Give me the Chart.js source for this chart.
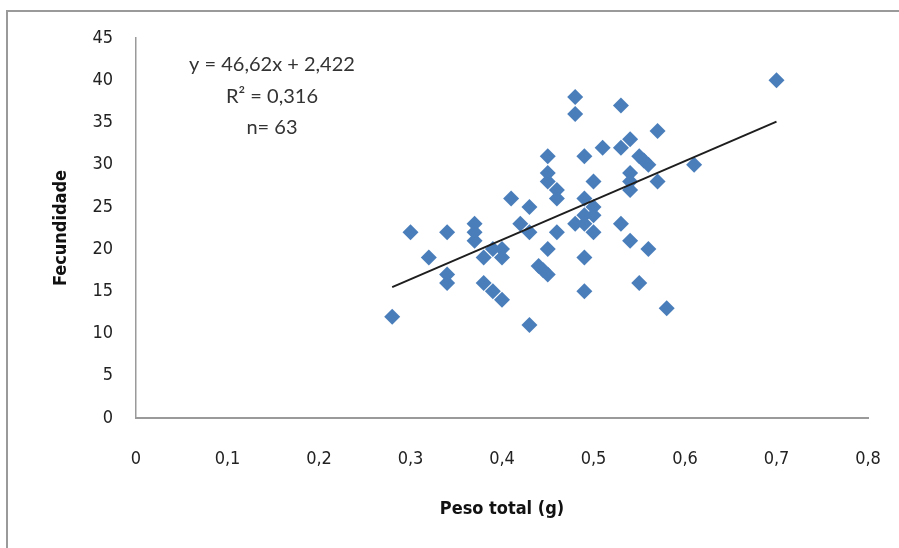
<!DOCTYPE html>
<html>
<head>
<meta charset="utf-8">
<script src="https://cdn.jsdelivr.net/npm/chart.js@4/dist/chart.umd.min.js"></script>
<style>
  html, body { margin: 0; padding: 0; background: #fff; overflow: hidden; }
  #wrap { position: relative; width: 899px; height: 548px; }
  #frame { position: absolute; left: 6px; top: 10px; width: 1000px; height: 1000px; border: 2px solid #9a9a9a; }
  #c { position: absolute; left: 0; top: 0; }
</style>
</head>
<body>
<div id="wrap">
  <div id="frame"></div>
  <canvas id="c" width="899" height="548"></canvas>
</div>
<script>
// Peso total (g) vs Fecundidade
const pesoTotal = [
  0.28, 0.30, 0.32, 0.34, 0.34, 0.34, 0.37, 0.37, 0.37, 0.38,
  0.39, 0.40, 0.40, 0.38, 0.39, 0.40, 0.41, 0.43, 0.42, 0.43,
  0.44, 0.45, 0.43, 0.45, 0.45, 0.45, 0.45, 0.46, 0.46, 0.46,
  0.48, 0.48, 0.49, 0.48, 0.49, 0.49, 0.50, 0.50, 0.50, 0.50,
  0.49, 0.49, 0.51, 0.53, 0.53, 0.54, 0.55, 0.56, 0.54, 0.54,
  0.54, 0.57, 0.57, 0.53, 0.54, 0.56, 0.55, 0.58, 0.61, 0.70,
  0.555, 0.49, 0.445
];
const fecundidade = [
  12, 22, 19, 22, 17, 16, 23, 22, 21, 19,
  20, 20, 19, 16, 15, 14, 26, 25, 23, 22,
  18, 17, 11, 20, 31, 29, 28, 27, 26, 22,
  38, 36, 31, 23, 24, 26, 25, 24, 22, 28,
  19, 15, 32, 37, 32, 33, 31, 30, 29, 28,
  27, 28, 34, 23, 21, 20, 16, 13, 30, 40,
  30.5, 23, 17.5
];

// linear trend line ends (y = 46,62x + 2,422)
const trendX = [0.28, 0.70];
const trendY = [15.5, 35.1];

const xTickLabels = ['0', '0,1', '0,2', '0,3', '0,4', '0,5', '0,6', '0,7', '0,8'];
const yTickLabels = ['0', '5', '10', '15', '20', '25', '30', '35', '40', '45'];
const noteLines = ['y = 46,62x + 2,422', 'R² = 0,316', 'n= 63'];

const narrow = "'Liberation Sans Narrow', 'DejaVu Sans Condensed', 'Liberation Sans', sans-serif";

const notePlugin = {
  id: 'note',
  afterDatasetsDraw(chart) {
    const { ctx, chartArea } = chart;
    ctx.save();
    ctx.fillStyle = '#333';
    ctx.font = "20px Lato, 'Liberation Sans', sans-serif";
    ctx.textAlign = 'center';
    ctx.textBaseline = 'middle';
    const cx = chartArea.left + 136;
    noteLines.forEach((t, i) => ctx.fillText(t, cx, chartArea.top + 27 + i * 31.5));
    ctx.restore();
  }
};

new Chart(document.getElementById('c'), {
  type: 'scatter',
  data: {
    datasets: [
      {
        label: 'Tendência',
        data: trendX.map((x, i) => ({ x, y: trendY[i] })),
        showLine: true,
        borderColor: '#1e1e1e',
        borderWidth: 2,
        pointRadius: 0
      },
      {
        label: 'Fecundidade',
        data: pesoTotal.map((x, i) => ({ x, y: fecundidade[i] })),
        pointStyle: 'rectRot',
        pointRadius: 8,
        pointHoverRadius: 8,
        backgroundColor: '#4A7EBB',
        borderWidth: 0
      }
    ]
  },
  options: {
    responsive: false,
    animation: false,
    layout: { padding: { left: 0, top: 38, right: 31, bottom: 0 } },
    plugins: { legend: { display: false }, tooltip: { enabled: false } },
    scales: {
      x: {
        type: 'linear', min: 0, max: 0.8,
        grid: { display: false, drawTicks: false },
        border: { display: true, color: '#9a9a9a', width: 2 },
        ticks: {
          stepSize: 0.1, padding: 31, color: '#222',
          font: { family: narrow, size: 18 },
          callback: (v, i) => xTickLabels[i]
        },
        title: {
          display: true, text: 'Peso total (g)', color: '#111',
          font: { family: narrow, size: 18, weight: 'bold' },
          padding: { top: 0, bottom: 28 }
        },
        afterFit: s => { s.height = 130; s.paddingLeft = 0; s.paddingRight = 0; }
      },
      y: {
        min: 0, max: 45,
        grid: { display: false, drawTicks: false },
        border: { display: true, color: '#9a9a9a', width: 1.5 },
        ticks: {
          stepSize: 5, padding: 23, color: '#222',
          font: { family: narrow, size: 18 },
          callback: (v, i) => yTickLabels[i]
        },
        title: {
          display: true, text: 'Fecundidade', color: '#111',
          font: { family: narrow, size: 18, weight: 'bold' },
          padding: { top: 51, bottom: 0 }
        },
        afterFit: s => { s.width = 136; s.paddingTop = 0; s.paddingBottom = 0; }
      }
    }
  },
  plugins: [notePlugin]
});
</script>
</body>
</html>
